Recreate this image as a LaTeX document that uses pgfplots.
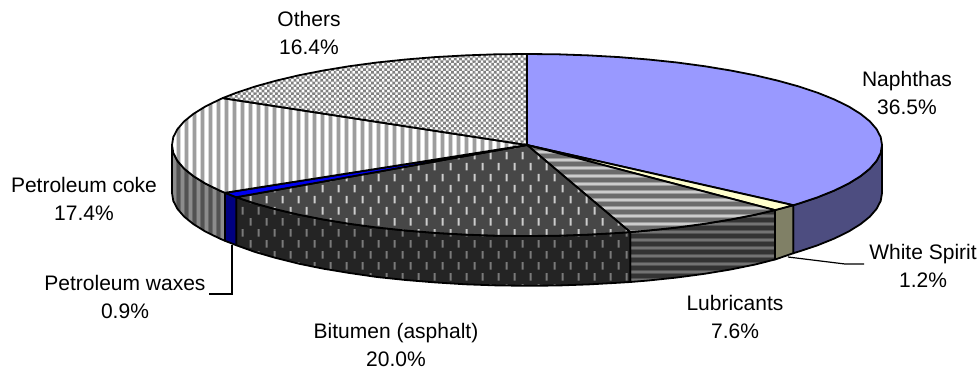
\documentclass[border=0pt]{standalone}
\usepackage{fontspec}
\setmainfont{Liberation Sans}
\usepackage{pgfplots}
\pgfplotsset{compat=1.18}
\usetikzlibrary{patterns}
% helpers for colored tiles: cells overlap their neighbours by 1pt, with periodic content, to avoid seams
\newcommand{\cbar}[3]{\pgfsetfillcolor{#3}\pgfpathrectangle{\pgfqpoint{#1pt}{-1pt}}{\pgfqpoint{#2pt}{10pt}}\pgfusepath{fill}}
\newcommand{\rbar}[3]{\pgfsetfillcolor{#3}\pgfpathrectangle{\pgfqpoint{-1pt}{#1pt}}{\pgfqpoint{10pt}{#2pt}}\pgfusepath{fill}}
\newcommand{\vtile}[4]{\pgfdeclarepatterninherentlycolored{#1}{\pgfqpoint{-1pt}{-1pt}}{\pgfqpoint{9pt}{9pt}}{\pgfqpoint{8pt}{8pt}}{%
  \cbar{-1}{10}{#2}\cbar{0}{1}{#3}\cbar{1}{3}{#4}\cbar{4}{1}{#3}\cbar{8}{1}{#3}}}
\newcommand{\htile}[4]{\pgfdeclarepatterninherentlycolored{#1}{\pgfqpoint{-1pt}{-1pt}}{\pgfqpoint{9pt}{9pt}}{\pgfqpoint{8pt}{8pt}}{%
  \rbar{-1}{10}{#2}\rbar{0}{1}{#3}\rbar{1}{2}{#4}\rbar{3}{1}{#3}\rbar{8}{1}{#3}}}
\newcommand{\dtile}[3]{\pgfdeclarepatterninherentlycolored{#1}{\pgfqpoint{-1pt}{-1pt}}{\pgfqpoint{17pt}{23pt}}{\pgfqpoint{16pt}{22pt}}{%
  \pgfsetfillcolor{#2}\pgfpathrectangle{\pgfqpoint{-1pt}{-1pt}}{\pgfqpoint{18pt}{24pt}}\pgfusepath{fill}%
  \pgfsetfillcolor{#3}\pgfpathrectangle{\pgfqpoint{1.5pt}{1.5pt}}{\pgfqpoint{2.2pt}{7.5pt}}%
  \pgfpathrectangle{\pgfqpoint{9.5pt}{12.5pt}}{\pgfqpoint{2.2pt}{7.5pt}}\pgfusepath{fill}}}
\vtile{cokeT}{white}{black!15}{black!38}
\vtile{cokeS}{black!45}{black!58}{black!68}
\htile{lubT}{black!58}{black!38}{black!20}
\htile{lubS}{black!80}{black!67}{black!55}
\dtile{bitT}{black!72}{black!20}
\dtile{bitS}{black!86}{black!52}
\newcommand{\sq}[2]{\pgfpathrectangle{\pgfqpoint{#1pt}{#2pt}}{\pgfqpoint{2.67pt}{2.67pt}}}
\pgfdeclarepatterninherentlycolored{othT}{\pgfqpoint{-1pt}{-1pt}}{\pgfqpoint{6.34pt}{6.34pt}}{\pgfqpoint{5.34pt}{5.34pt}}{%
  \pgfsetfillcolor{white}\pgfpathrectangle{\pgfqpoint{-1pt}{-1pt}}{\pgfqpoint{7.34pt}{7.34pt}}\pgfusepath{fill}%
  \pgfsetfillcolor{black!50}\sq{-2.67}{-2.67}\sq{-2.67}{2.67}\sq{0}{0}\sq{0}{5.34}\sq{2.67}{-2.67}\sq{2.67}{2.67}\sq{5.34}{0}\sq{5.34}{5.34}\pgfusepath{fill}}
\definecolor{naph}{HTML}{9999FF}
\definecolor{naphS}{HTML}{4D4D80}
\definecolor{ws}{HTML}{FFFFCC}
\definecolor{wsS}{HTML}{808066}
\definecolor{waxT}{HTML}{0000EE}
\definecolor{waxS}{HTML}{000080}
\tikzset{edge/.style={draw=black,line width=1.8pt,line join=round}}
\newcommand{\lab}[3]{\node[align=center,font=\fontsize{21}{27.5}\selectfont,inner sep=0pt] at (axis cs:#1,#2) {#3};}
\begin{document}
\begin{tikzpicture}
\begin{axis}[
  width=980pt,height=370pt,scale only axis,
  xmin=0,xmax=980,ymin=0,ymax=370,y dir=reverse,
  hide axis,clip=false,
  every axis plot/.append style={mark=none}
]
% side walls
\addplot[pattern=cokeS,edge] coordinates {(225,192.8)(219.6,190.5)(205.3,183.5)(193.4,176.1)(184.1,168.6)(177.4,160.8)(173.3,152.9)(172,145)(172,193)(173.3,200.9)(177.4,208.8)(184.1,216.6)(193.4,224.1)(205.3,231.5)(219.6,238.5)(225,240.8)} --cycle;
\addplot[fill=naphS,edge] coordinates {(882,145)(880.7,152.9)(876.6,160.8)(869.9,168.6)(860.6,176.1)(848.7,183.5)(834.4,190.5)(817.8,197.2)(798.9,203.5)(793.3,205.2)(793.3,253.2)(798.9,251.5)(817.8,245.2)(834.4,238.5)(848.7,231.5)(860.6,224.1)(869.9,216.6)(876.6,208.8)(880.7,200.9)(882,193)} --cycle;
\addplot[fill=wsS,edge] coordinates {(793.3,205.2)(778,209.3)(774.9,210.1)(774.9,259.5)(778,258.5)(793.3,253.2)} --cycle;
\addplot[pattern=lubS,edge] coordinates {(774.9,210.1)(755.2,214.7)(730.6,219.5)(704.5,223.8)(677,227.5)(648.4,230.5)(630.2,232.1)(630.2,282)(648.4,280.5)(677,277.5)(704.5,273.8)(730.6,269.5)(755.2,264.5)(774.9,259.5)} --cycle;
\addplot[pattern=bitS,edge] coordinates {(630.2,232.1)(618.9,232.9)(588.6,234.6)(557.9,235.7)(527,236)(496.1,235.7)(465.4,234.6)(435.1,232.9)(405.6,230.5)(377,227.5)(349.5,223.8)(323.4,219.5)(298.8,214.7)(276,209.3)(255.1,203.5)(236.2,197.2)(236.2,245.2)(255.1,252)(276,258)(298.8,263.7)(323.4,268.7)(349.5,273)(377,277)(405.6,280)(435.1,282.4)(465.4,284.3)(496.1,285.4)(527,285.8)(557.9,285.5)(588.6,284.4)(618.9,282.7)(630.2,282)} --cycle;
\addplot[fill=waxS,edge] coordinates {(236.2,197.2)(225,192.8)(225,240.8)(236.2,245.2)} --cycle;
% top: Naphthas 36.5
\addplot[fill=naph,edge] coordinates {(527,145)(527,54)(557.9,54.3)(588.6,55.4)(618.9,57.1)(648.4,59.5)(677,62.5)(704.5,66.2)(730.6,70.5)(755.2,75.3)(778,80.7)(798.9,86.5)(817.8,92.8)(834.4,99.5)(848.7,106.5)(860.6,113.9)(869.9,121.4)(876.6,129.2)(880.7,137.1)(882,145)(880.7,152.9)(876.6,160.8)(869.9,168.6)(860.6,176.1)(848.7,183.5)(834.4,190.5)(817.8,197.2)(798.9,203.5)(793.3,205.2)} --cycle;
% White Spirit 1.2
\addplot[fill=ws,edge] coordinates {(527,145)(793.3,205.2)(778,209.3)(774.9,210.1)} --cycle;
% Lubricants 7.6
\addplot[pattern=lubT,edge] coordinates {(527,145)(774.9,210.1)(755.2,214.7)(730.6,219.5)(704.5,223.8)(677,227.5)(648.4,230.5)(630.2,232.1)} --cycle;
% Bitumen 20.0
\addplot[pattern=bitT,edge] coordinates {(527,145)(630.2,232.1)(618.9,232.9)(588.6,234.6)(557.9,235.7)(527,236)(496.1,235.7)(465.4,234.6)(435.1,232.9)(405.6,230.5)(377,227.5)(349.5,223.8)(323.4,219.5)(298.8,214.7)(276,209.3)(255.1,203.5)(236.2,197.2)} --cycle;
% Waxes 0.9
\addplot[fill=waxT,edge] coordinates {(527,145)(236.2,197.2)(225,192.8)} --cycle;
% Coke 17.4
\addplot[pattern=cokeT,edge] coordinates {(527,145)(225,192.8)(219.6,190.5)(205.3,183.5)(193.4,176.1)(184.1,168.6)(177.4,160.8)(173.3,152.9)(172,145)(173.3,137.1)(177.4,129.2)(184.1,121.4)(193.4,113.9)(205.3,106.5)(219.6,99.5)(222.7,98.1)} --cycle;
% Others 16.4
\addplot[pattern=othT,edge] coordinates {(527,145)(222.7,98.1)(236.2,92.8)(255.1,86.5)(276,80.7)(298.8,75.3)(323.4,70.5)(349.5,66.2)(377,62.5)(405.6,59.5)(435.1,57.1)(465.4,55.4)(496.1,54.3)(527,54)} --cycle;
% leader lines
\addplot[black,line width=1.2pt] coordinates {(788,257)(845,264)(864,264)};
\addplot[black,line width=1.5pt] coordinates {(232,245)(232,294)(209,294)};
% labels
\lab{309}{33}{Others\\16.4\%}
\lab{907}{93}{Naphthas\\36.5\%}
\lab{923}{266}{White Spirit\\1.2\%}
\lab{735}{317}{Lubricants\\7.6\%}
\lab{396}{345}{Bitumen (asphalt)\\20.0\%}
\lab{84}{199}{Petroleum coke\\17.4\%}
\lab{125}{297}{Petroleum waxes\\0.9\%}
\path (axis cs:0,0) (axis cs:980,370);
\end{axis}
\end{tikzpicture}
\end{document}
